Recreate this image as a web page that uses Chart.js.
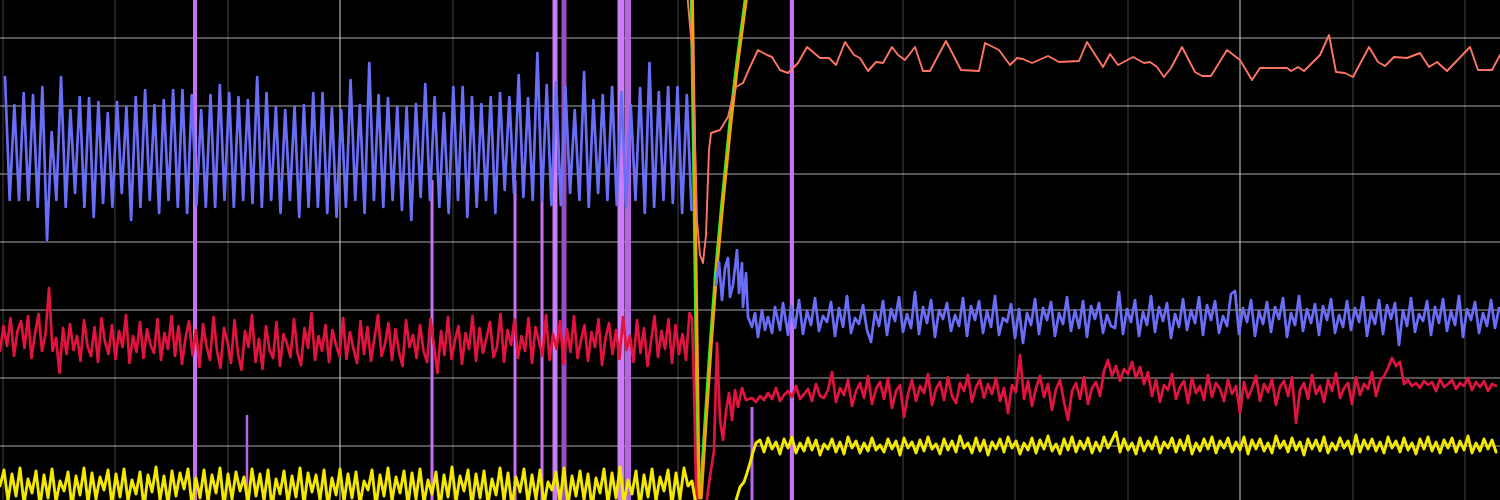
<!DOCTYPE html>
<html><head><meta charset="utf-8">
<script src="https://cdn.jsdelivr.net/npm/chart.js@4"></script>
<style>
html,body{margin:0;padding:0;background:#000;overflow:hidden}
#wrap{width:1500px;height:500px;position:relative;background:#000}
canvas{filter:blur(0.7px)}
</style></head><body>
<div id="wrap"><canvas id="c"></canvas></div>
<script>
// ---- axis ticks (sample index on x, level on y) ----
const xTicks=[2.5,115,227.5,340,452.5,565,677.5,790,902.5,1015,1127.5,1240,1352.5,1465];
const xMajorTicks=[340,1240];
const yTicks=[0,68,136,204,272,340,408];

// ---- blue trace ----
const blueBeforeStart=5, blueBeforeStep=4.67;
const blueBefore=[369,246,341,246,353,246,351,239,359,206,
314,246,369,239,336,253,349,239,348,229,
344,243,333,239,344,253,339,226,349,239,
356,246,341,233,346,246,356,239,356,233,
351,241,336,239,351,239,361,246,353,239,
349,246,346,243,369,239,353,246,339,233,
336,246,339,229,341,239,353,239,353,233,
338,229,336,239,366,246,341,233,383,246,
351,239,348,246,
339,236,339,226,342,249,362,246,349,239,
333,233,359,246,359,229,349,239,342,246,
349,233,353,256,349,253,371,249,348,246,
393,246,361,241,364,241,359,253,336,246,
374,239,346,253,351,246,359,241,354,239,
341,246,358,233,383,239,354,246,359,243,
359,233,351,236];
const blueBurstT=[716,719,722,725,728,730,733,737,739,742,743,746,748,752,755,758,762,765,768,772,775,780,783,788];
const blueBurstV=[161,184,146,178,188,149,161,196,153,183,139,173,129,119,133,109,136,116,129,113,139,116,143,111];
const blueAfterStart=791, blueAfterStep=4;
const blueAfter=[140,118,146,112,135,121,148,115,130,124,144,110,138,119,150,113,128,122,141,116,
104,134,120,145,111,137,125,149,114,132,118,154,112,139,123,146,109,136,127,143,
115,131,120,148,110,140,126,145,113,135,119,150,111,128,124,142,108,137,103,133,
121,147,112,138,126,144,110,133,122,149,115,136,118,145,109,140,127,143,113,131,
120,118,154,112,137,124,146,110,134,121,150,114,139,125,143,108,132,119,147,116,
136,123,149,111,141,126,145,113,130,120,152,155,112,138,124,146,110,135,122,144,
114,139,127,148,109,133,121,150,115,137,123,142,111,140,126,147,113,131,119,145,
116,138,124,149,110,134,122,146,112,141,127,143,101,136,120,148,114,132,125,145,
111,139,123,147,115,135,121,150,109,137,126,144,113,133,120,146,118,138];

// ---- crimson trace ----
const redBeforeStart=0, redBeforeStep=3.5;
const redBefore=[95,120,100,128,90,115,125,98,130,88,112,132,95,112,158,95,108,73,118,92,
122,96,110,85,126,100,90,119,84,128,104,92,121,87,115,99,131,83,110,94,
124,88,117,101,93,127,86,113,97,130,90,120,82,108,125,91,116,79,122,100,
86,129,95,78,118,104,83,126,92,76,115,99,131,84,107,77,120,96,88,124,
80,112,102,89,127,93,81,118,98,133,86,110,95,121,84,116,101,90,128,87,
114,97,83,125,92,119,85,108,131,90,102,123,86,117,94,80,126,99,111,88,
121,95,84,127,100,73,115,91,129,87,106,120,82,113,97,130,85,118,93,108,
124,89,99,132,84,116,101,127,88,110,95,128,83,119,104,90,131,86,112,97,
125,82,117,94,130,88,106,121,85,114,99,127,81,108,123,92,116,87,129,96,
110,84,126,93,118,80,104,130,89,115,97,127,83,121,92,112,86,133];
const redDropT=[692,694,696,699,704,710,714,717,720,723,726,729,732,735,738,742,746];
const redDropV=[128,60,-40,-75,-75,-30,-5,103,26,6,35,53,26,56,39,58,46];
const redAfterStart=752, redAfterStep=4;
const redAfter=[48,44,50,46,53,47,58,45,51,55,49,60,47,52,57,45,62,50,48,56,
74,44,58,51,66,40,55,63,48,70,42,57,64,47,68,38,55,61,29,52,
66,45,60,53,72,41,57,64,46,69,50,43,63,55,71,44,59,66,48,62,
52,68,45,58,33,61,54,91,47,65,40,58,70,49,62,36,57,66,44,26,
55,63,47,69,42,58,64,50,75,86,70,80,65,77,72,84,68,79,62,74,
50,66,44,61,56,72,47,59,65,43,68,53,60,46,71,49,63,57,45,66,
52,60,33,64,48,58,70,45,62,54,67,41,59,65,50,69,23,56,63,47,
71,52,60,44,66,55,73,48,58,63,42,69,51,62,57,74,50,65,70,78,
88,80,84,62,66,60,63,58,65,61,64,55,67,59,62,66,57,63,60,68,
56,64,59,65,55,62,60];

// ---- yellow trace ----
const yellowBeforeStart=0, yellowBeforeStep=4;
const yellowBefore=[-40,-24,-55,-28,-50,-22,-58,-33,-47,-25,-60,-29,-52,-23,-56,-35,-45,-26,-61,-30,
-49,-22,-57,-27,-53,-31,-44,-24,-59,-28,-51,-23,-55,-34,-48,-26,-62,-29,-46,-21,
-54,-30,-58,-25,-50,-27,-43,-23,-60,-32,-52,-24,-56,-29,-47,-22,-61,-28,-53,-26,
-45,-31,-58,-23,-50,-28,-55,-24,-62,-33,-48,-25,-57,-30,-51,-22,-59,-27,-46,-29,
-54,-24,-60,-32,-49,-23,-56,-28,-52,-26,-58,-35,-44,-24,-61,-29,-50,-22,-55,-31,
-47,-25,-59,-27,-53,-23,-57,-34,-48,-26,-62,-29,-51,-21,-56,-30,-45,-24,-60,-28,
-52,-25,-58,-33,-49,-22,-55,-27,-61,-31,-46,-23,-57,-29,-53,-24,-59,-36,-44,-26,
-56,-22,-60,-30,-50,-25,-54,-28,-62,-32,-47,-23,-58,-27,-52,-21,-57,-34,-48,-25,
-61,-29,-51,-23,-55,-31,-45,-24,-59,-27,-53,-22,-40];
const yellowRiseT=[692,697,733,737,740,744,747,750,753,756];
const yellowRiseV=[-35,-65,-65,-51,-41,-36,-27,-17,-6,3];
const yellowAfterStart=760, yellowAfterStep=4;
const yellowAfter=[6,-6,8,-3,4,-8,7,-2,9,-7,3,-5,8,-4,6,-9,2,-3,7,-6,
4,-8,9,-2,5,-7,3,-5,8,-4,1,-6,7,-3,5,-9,8,-2,4,-7,
6,-5,9,-3,2,-8,7,-4,5,-6,10,-2,3,-7,8,-5,6,-9,4,-3,
7,-6,9,-2,5,-8,3,-4,8,-7,6,-3,10,-5,2,-8,7,-4,9,-6,
5,-3,8,-7,4,-5,9,-2,6,14,-6,7,-4,3,-8,8,-5,5,-3,9,
-7,4,-2,8,-6,6,-4,10,-8,3,-5,7,-3,9,-7,5,-2,8,-6,4,
-4,9,-8,6,-3,7,-5,3,-7,10,-2,5,-6,8,-4,4,-9,7,-3,6,
-5,9,-7,3,-4,8,-2,5,-8,11,-6,6,-3,7,-5,4,-7,9,-2,5,
-6,8,-4,3,-8,7,-3,9,-5,4,-7,6,-2,8,-6,5,-4,10,-7,3,-5,7,-3,6,-6];

// ---- salmon trace ----
const salmonT=[686,693,697,700,703,706,709,711,720,728,732,736,743,750,758,767,772,780,788,798,807,820,829,836,845,854,860,868,876,883,892,898,905,915,923,930,946,961,979,985,999,1010,1017,1023,1032,1048,1059,1079,1087,1103,1110,1118,1133,1144,1150,1157,1164,1171,1182,1195,1202,1211,1227,1240,1252,1260,1287,1291,1298,1304,1320,1329,1336,1345,1353,1369,1378,1385,1394,1407,1420,1429,1437,1447,1470,1478,1492,1500];
const salmonV=[466,386,226,191,183,211,296,313,316,329,346,359,363,379,396,391,389,376,373,383,399,388,388,381,404,391,388,375,384,383,399,391,386,399,375,375,405,376,375,403,396,381,388,387,383,390,384,385,404,379,392,381,389,383,384,379,369,378,399,374,370,370,396,386,366,378,378,375,379,375,391,411,374,373,369,399,384,380,389,388,393,379,384,375,399,376,376,391];

// ---- green / orange sweep ----
const greenT=[691,698,700,705,710,716,722,730,737,745,750];
const greenV=[466,-51,-52,26,101,181,246,326,386,446,481];
const orangeT=[692.3,699.3,701.3,706.3,711.3,717.3,723.3,731.3,738.3,746.3,751.3];
const orangeV=[466,-51,-52,26,101,181,246,326,386,446,481];

// ---- violet spikes ----
const spikeT=[195,247,432,515,542,555,564,621,628,752,792];
const spikeTop=[500,31,266,266,266,500,500,500,500,39,500];
const spikeBase=-80;

// styles
const spikeWidth=[4,2.5,3,3,3,5,5,7,6,3,4];
const spikeColor=['#c870f5','#b862e6','#c870f5','#c870f5','#c870f5','#cc7cf8','#9a4cc0','#cc7cf8','#b466e0','#bc66ea','#c870f5'];

function series(start,step,values){return values.map((v,i)=>({x:start+i*step,y:v}));}
function pairs(ts,vs){return ts.map((t,i)=>({x:t,y:vs[i]}));}

const lineBase={pointRadius:0,tension:0,borderJoinStyle:'round',borderCapStyle:'round',fill:false,spanGaps:false};

const datasets=[];
datasets.push(Object.assign({},lineBase,{label:'yellow',borderColor:'#f2e800',borderWidth:2.9,
  data:[...series(yellowBeforeStart,yellowBeforeStep,yellowBefore),...pairs(yellowRiseT,yellowRiseV),...series(yellowAfterStart,yellowAfterStep,yellowAfter)]}));
datasets.push(Object.assign({},lineBase,{label:'crimson',borderColor:'#e0143e',borderWidth:2.7,
  data:[...series(redBeforeStart,redBeforeStep,redBefore),...pairs(redDropT,redDropV),...series(redAfterStart,redAfterStep,redAfter)]}));
datasets.push(Object.assign({},lineBase,{label:'blue',borderColor:'#6a6ef6',borderWidth:2.7,
  data:[...series(blueBeforeStart,blueBeforeStep,blueBefore),{x:704,y:null},...pairs(blueBurstT,blueBurstV),...series(blueAfterStart,blueAfterStep,blueAfter)]}));
datasets.push(Object.assign({},lineBase,{label:'salmon',borderColor:'#ff7565',borderWidth:1.9,data:pairs(salmonT,salmonV)}));
spikeT.forEach((t,i)=>{
  datasets.push(Object.assign({},lineBase,{label:'spike'+i,borderColor:spikeColor[i],borderWidth:spikeWidth[i],borderCapStyle:'butt',
    data:[{x:t,y:spikeBase},{x:t,y:spikeTop[i]}]}));
});
datasets.push(Object.assign({},lineBase,{label:'orange',borderColor:'#f5a300',borderWidth:2.8,data:pairs(orangeT,orangeV)}));
datasets.push(Object.assign({},lineBase,{label:'green',borderColor:'#33e633',borderWidth:2.8,data:pairs(greenT,greenV)}));

new Chart(document.getElementById('c'),{
  type:'line',
  data:{datasets},
  options:{
    responsive:true,maintainAspectRatio:false,animation:false,
    layout:{padding:0},
    plugins:{legend:{display:false},tooltip:{enabled:false}},
    events:[],
    scales:{
      x:{type:'linear',min:0,max:1500,
        afterBuildTicks:s=>{s.ticks=xTicks.map(v=>({value:v}));},
        ticks:{display:false},border:{display:false},
        grid:{drawTicks:false,lineWidth:2,
          color:c=>xMajorTicks.includes(c.tick&&c.tick.value)?'rgba(255,255,255,0.42)':'rgba(255,255,255,0.13)'}},
      y:{type:'linear',min:-54,max:446,
        afterBuildTicks:s=>{s.ticks=yTicks.map(v=>({value:v}));},
        ticks:{display:false},border:{display:false},
        grid:{drawTicks:false,lineWidth:2,color:'rgba(255,255,255,0.33)'}}
    }
  }
});
</script>
</body></html>
